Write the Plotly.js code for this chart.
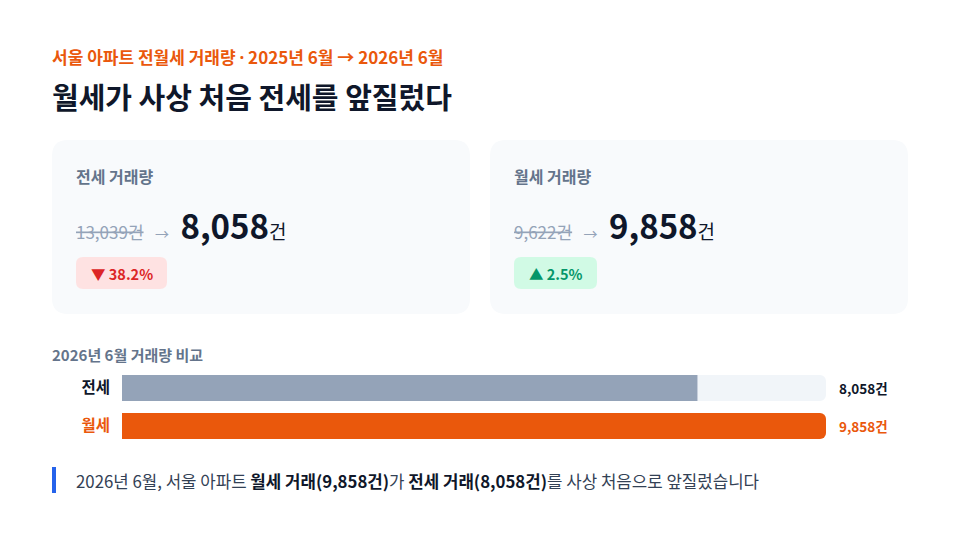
<!DOCTYPE html>
<html>
<head>
<meta charset="utf-8">
<script src="https://cdn.plot.ly/plotly-3.0.1.min.js"></script>
<style>
  html, body { margin: 0; padding: 0; background: #ffffff; }
  #chart { width: 960px; height: 543px; }
</style>
</head>
<body>
<div id="chart"></div>
<script>
// data
var types = ['전세', '월세'];
var prevCount = [13039, 9622];   // 2025년 6월
var currCount = [8058, 9858];    // 2026년 6월
var changePct = [-38.2, 2.5];

var FONT = '"Noto Sans CJK KR", "Noto Sans", sans-serif';
var W = 960, H = 543;
var barColors = ['#94a3b8', '#ea580c'];
var labelColors = ['#0f172a', '#ea580c'];

function px(v) { return v / W; }
function py(v) { return 1 - v / H; }
function fmt(n) { return n.toLocaleString('en-US'); }

// rounded rectangle in paper coords, given in pixel coords (y down)
function rr(x0, y0, x1, y1, r) {
  return 'M' + px(x0 + r) + ',' + py(y0) +
    ' L' + px(x1 - r) + ',' + py(y0) +
    ' Q' + px(x1) + ',' + py(y0) + ' ' + px(x1) + ',' + py(y0 + r) +
    ' L' + px(x1) + ',' + py(y1 - r) +
    ' Q' + px(x1) + ',' + py(y1) + ' ' + px(x1 - r) + ',' + py(y1) +
    ' L' + px(x0 + r) + ',' + py(y1) +
    ' Q' + px(x0) + ',' + py(y1) + ' ' + px(x0) + ',' + py(y1 - r) +
    ' L' + px(x0) + ',' + py(y0 + r) +
    ' Q' + px(x0) + ',' + py(y0) + ' ' + px(x0 + r) + ',' + py(y0) + ' Z';
}

var maxCount = Math.max.apply(null, currCount);

var track = {
  type: 'bar', orientation: 'h',
  y: types, x: types.map(function () { return maxCount; }),
  width: 0.68,
  marker: { color: '#f1f5f9', cornerradius: 6 },
  hoverinfo: 'skip', showlegend: false
};
var bars = {
  type: 'bar', orientation: 'h',
  y: types, x: currCount,
  width: 0.68,
  marker: { color: barColors, cornerradius: 6 },
  hovertemplate: '%{y}: %{x:,}건<extra></extra>',
  showlegend: false
};

var shapes = [];
var annotations = [];

function ann(x, y, text, size, color, opts) {
  var a = {
    xref: 'paper', yref: 'paper', x: px(x - 1), y: py(y),
    xanchor: 'left', yanchor: 'middle', showarrow: false, borderpad: 0,
    text: text, font: { family: FONT, size: size, color: color }
  };
  for (var k in opts) a[k] = opts[k];
  annotations.push(a);
}

// header
ann(52, 57, '<b>서울 아파트 전월세 거래량 <span style="font-family:\'Noto Sans\'">·</span> 2025년 6월 → 2026년 6월</b>', 17, '#ea580c');
ann(52, 96, '<b>월세가 사상 처음 전세를 앞질렀다</b>', 29, '#0f172a');

// KPI cards
var cardX = [52, 490];
var badgeW = [91, 83];
types.forEach(function (t, i) {
  var x0 = cardX[i];
  shapes.push({ type: 'path', xref: 'paper', yref: 'paper', path: rr(x0, 140, x0 + 418, 314, 16),
    fillcolor: '#f8fafc', line: { width: 0 }, layer: 'below' });
  ann(x0 + 24, 176, t + ' 거래량', 16, '#64748b', { font: { family: FONT, size: 16, color: '#64748b', weight: 600 } });
  ann(x0 + 24, 225,
    '<span style="font-size:17px;color:#94a3b8"><s>' + fmt(prevCount[i]) + '건</s>\u00a0\u00a0\u00a0</span>' +
    '<span style="font-size:14px;color:#94a3b8">→</span>' +
    '<span style="font-size:17px">\u00a0\u00a0\u00a0</span>' +
    '<span style="font-size:33px;color:#0f172a;font-weight:bold">' + fmt(currCount[i]) + '</span>' +
    '<span style="font-size:19px;color:#0f172a">건</span>', 17, '#94a3b8');
  var up = changePct[i] > 0;
  shapes.push({ type: 'path', xref: 'paper', yref: 'paper', path: rr(x0 + 24, 257, x0 + 24 + badgeW[i], 289, 7),
    fillcolor: up ? '#d1fae5' : '#fee2e2', line: { width: 0 }, layer: 'below' });
  ann(x0 + 25 + badgeW[i] / 2, 273, '<b>' + (up ? '▲' : '▼') + ' ' + Math.abs(changePct[i]).toFixed(1) + '%</b>', 14.5,
    up ? '#059669' : '#dc2626', { xanchor: 'center' });
});

// comparison section
ann(52, 354, '<b>2026년 6월 거래량 비교</b>', 15, '#64748b');
types.forEach(function (t, i) {
  annotations.push({
    xref: 'x', yref: 'y', x: maxCount, y: t, xshift: 11,
    xanchor: 'left', yanchor: 'middle', showarrow: false,
    text: '<b>' + fmt(currCount[i]) + '건</b>',
    font: { family: FONT, size: 13.5, color: labelColors[i] }
  });
});

// footer note
shapes.push({ type: 'rect', xref: 'paper', yref: 'paper', x0: px(52), x1: px(56), y0: py(493), y1: py(467),
  fillcolor: '#2563eb', line: { width: 0 } });
ann(76, 481, '2026년 6월, 서울 아파트 <b><span style="color:#0f172a">월세 거래(' + fmt(currCount[1]) + '건)</span></b>가 ' +
  '<b><span style="color:#0f172a">전세 거래(' + fmt(currCount[0]) + '건)</span></b>를 사상 처음으로 앞질렀습니다', 16.8, '#334155');

var layout = {
  width: W, height: H, autosize: false,
  margin: { l: 0, r: 0, t: 0, b: 0, pad: 0 },
  paper_bgcolor: '#ffffff', plot_bgcolor: 'rgba(0,0,0,0)',
  barmode: 'overlay',
  font: { family: FONT, color: '#0f172a' },
  xaxis: { domain: [px(122), px(826)], range: [0, maxCount], visible: false, fixedrange: true },
  yaxis: {
    domain: [py(445), py(369)], type: 'category', range: [1.5, -0.5],
    showgrid: false, zeroline: false, showline: false, ticks: '',
    tickvals: types,
    ticktext: types.map(function (t, i) { return '<b><span style="color:' + labelColors[i] + '">' + t + '</span></b>'; }),
    tickfont: { family: FONT, size: 15.5 },
    ticklabelstandoff: 11, fixedrange: true
  },
  shapes: shapes,
  annotations: annotations,
  showlegend: false
};

Plotly.newPlot('chart', [track, bars], layout, { displayModeBar: false, staticPlot: true });
</script>
</body>
</html>
